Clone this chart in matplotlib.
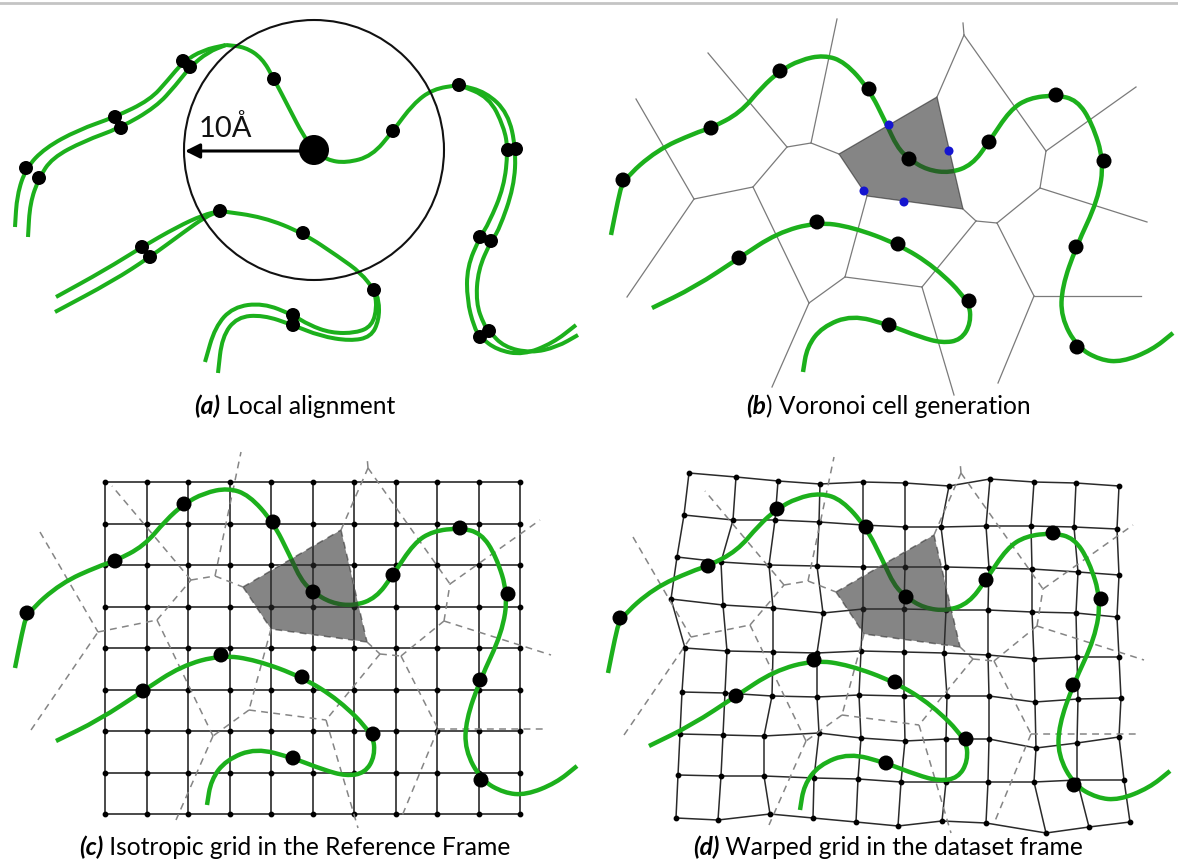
import numpy as np
import matplotlib
matplotlib.use('Agg')
import matplotlib.pyplot as plt
from matplotlib.path import Path
from matplotlib.patches import PathPatch, Circle, Polygon

plt.rcParams['font.family'] = ['Lato', 'DejaVu Sans']

GREEN = '#1cb01c'
W, H = 1178, 863

# ---------------------------------------------------------------
# Panel (a): local alignment of backbone traces (pixel coordinates)
# ---------------------------------------------------------------
a_center = (314, 150)
a_radius = 130

a_single = [
    [(314, 150), (303, 135), (290, 110), (274, 79), (262, 58), (245, 47), (226, 45)],
    [(314, 150), (327, 160), (346, 163), (372, 156), (393, 131), (413, 104), (433, 89), (459, 85)],
    [(220, 211), (263, 217), (303, 233), (339, 257), (361, 273), (374, 290)],
]
a_strands = [
    [(226, 45), (203, 50), (183, 62), (168, 80), (150, 100), (115, 117), (78, 130), (45, 148), (26, 168), (17, 195), (15, 227)],
    [(226, 45), (208, 52), (190, 67), (176, 85), (156, 107), (120, 128), (84, 141), (52, 158), (39, 178), (30, 203), (28, 237)],
    [(459, 85), (489, 97), (504, 127), (508, 150), (504, 187), (489, 223), (480, 237), (467, 267), (467, 300), (474, 327),
     (480, 337), (497, 350), (523, 355), (553, 343), (576, 325)],
    [(459, 85), (486, 92), (508, 113), (516, 149), (514, 187), (499, 230), (491, 241), (478, 270), (476, 303), (484, 325),
     (489, 331), (504, 347), (531, 353), (557, 347), (578, 335)],
    [(220, 211), (203, 215), (177, 227), (142, 247), (105, 270), (56, 297)],
    [(220, 211), (205, 217), (184, 232), (150, 257), (113, 281), (55, 312)],
    [(374, 290), (377, 307), (372, 326), (356, 333), (331, 333), (309, 325), (293, 315), (263, 303), (233, 307), (215, 327), (205, 362)],
    [(374, 290), (379, 300), (379, 320), (371, 337), (350, 341), (320, 336), (293, 325), (263, 315), (237, 317), (222, 337), (218, 373)],
]
a_dots = [(274, 79), (393, 131), (459, 85), (220, 211), (303, 233), (374, 290),
          (183, 61), (190, 67), (115, 117), (121, 128), (26, 168), (39, 178),
          (508, 150), (516, 149), (480, 237), (491, 241), (480, 337), (489, 331),
          (142, 247), (150, 257), (293, 315), (293, 325)]

# ---------------------------------------------------------------
# Panels (b)-(d): traces, Voronoi tessellation, grids
# ---------------------------------------------------------------
trace_top = [(611, 235), (618, 200), (623, 180), (657, 150), (695, 133), (711, 128), (740, 113), (762, 87),
             (780, 71), (800, 60), (824, 55), (845, 62), (869, 89), (886, 123), (897, 147), (909, 159),
             (927, 170), (950, 173), (972, 165), (989, 142), (1010, 110), (1029, 98), (1056, 95),
             (1077, 100), (1092, 123), (1104, 161), (1098, 200), (1076, 247), (1062, 287), (1061, 317),
             (1077, 347), (1100, 360), (1122, 362), (1152, 350), (1173, 333)]
trace_low = [(652, 308), (695, 287), (739, 258), (777, 233), (817, 222), (852, 227), (898, 244), (935, 267),
             (969, 301), (971, 323), (961, 340), (942, 343), (920, 337), (889, 325), (852, 315), (822, 327),
             (807, 347), (803, 372)]
trace_dots = [(623, 180), (711, 128), (780, 71), (869, 89), (909, 159), (989, 142), (1056, 95), (1104, 161),
              (1076, 247), (1077, 347), (739, 258), (817, 222), (898, 244), (969, 301), (889, 325)]

vor_pts = {
    'V1': (694, 199), 'V2': (753, 187), 'V3': (787, 147), 'V4': (811, 143), 'V5': (839, 154),
    'V6': (937, 97), 'V7': (963, 209), 'V8': (867, 196), 'V9': (976, 221), 'V10': (997, 223),
    'V11': (1040, 188), 'V12': (1046, 151), 'V13': (845, 277), 'V14': (922, 287), 'V15': (809, 303),
    'V16': (1034, 296), 'VT': (964, 35),
    'E1': (636, 99), 'E2': (627, 297), 'E3': (708, 53), 'E4': (837, 19), 'E5': (963, 23),
    'E6': (1147, 222), 'E7': (1136, 87), 'E8': (954, 395), 'E9': (772, 387), 'E10': (1141, 296),
    'E11': (998, 383),
}
vor_edges = [('E1', 'V1'), ('E2', 'V1'), ('V1', 'V2'), ('V2', 'V3'), ('V3', 'E3'), ('V3', 'V4'),
             ('V4', 'E4'), ('V4', 'V5'), ('V5', 'V6'), ('V5', 'V8'), ('V6', 'VT'), ('VT', 'E5'),
             ('VT', 'V12'), ('V6', 'V7'), ('V7', 'V8'), ('V7', 'V9'), ('V9', 'V10'), ('V9', 'V14'),
             ('V10', 'V11'), ('V10', 'V16'), ('V11', 'V12'), ('V11', 'E6'), ('V12', 'E7'),
             ('V8', 'V13'), ('V13', 'V14'), ('V13', 'V15'), ('V14', 'E8'), ('V15', 'E9'),
             ('V2', 'V15'), ('V16', 'E10'), ('V16', 'E11')]
cell = ['V5', 'V6', 'V7', 'V8']
cell_sites = [(889, 125), (949, 151), (864, 191), (904, 202)]

# panel offsets relative to panel (b)
off_b = (0, 0)
off_c = (-596, 433)
off_d = (-3, 438)

# isotropic grid of panel (c)
grid_x = np.linspace(105, 520, 11)
grid_y = np.linspace(482, 814, 9)

# warped grid of panel (d), one row of node x / y per grid line
warp_x = [
    [689, 736, 778, 820, 863, 905, 949, 990, 1034, 1076, 1119],
    [684, 733, 775, 819, 863, 905, 941, 986, 1031, 1074, 1117],
    [677, 721, 769, 817, 863, 905, 946, 989, 1032, 1078, 1119],
    [671, 723, 773, 823, 863, 904, 946, 988, 1032, 1076, 1117],
    [685, 727, 773, 817, 861, 904, 944, 988, 1034, 1077, 1119],
    [682, 725, 772, 817, 859, 904, 947, 989, 1035, 1078, 1121],
    [680, 723, 764, 819, 861, 905, 946, 989, 1036, 1077, 1119],
    [678, 721, 764, 814, 858, 901, 946, 988, 1034, 1077, 1124],
    [676, 718, 770, 813, 856, 898, 942, 986, 1046, 1089, 1130],
]
warp_y = [
    [473, 477, 481, 484, 482, 483, 486, 479, 482, 483, 486],
    [515, 520, 520, 522, 525, 527, 527, 526, 526, 527, 529],
    [557, 562, 565, 566, 567, 567, 567, 568, 569, 572, 575],
    [599, 605, 608, 613, 609, 609, 610, 610, 612, 613, 617],
    [648, 651, 652, 653, 651, 652, 653, 655, 659, 657, 657],
    [692, 693, 696, 697, 695, 696, 696, 696, 702, 699, 698],
    [734, 735, 736, 733, 738, 741, 739, 739, 748, 743, 737],
    [775, 776, 776, 778, 779, 782, 782, 782, 782, 780, 780],
    [818, 820, 814, 818, 822, 826, 821, 823, 833, 827, 822],
]

captions = [
    (194, 414, '(a)', ' Local alignment'),
    (746, 414, '(b', ') Voronoi cell generation'),
    (79, 855, '(c)', ' Isotropic grid in the Reference Frame'),
    (693, 855, '(d)', ' Warped grid in the dataset frame'),
]


def smooth_path(pts, dx=0, dy=0):
    # quadratic B-spline through the midpoints of the control polygon
    p = np.asarray(pts, float) + [dx, dy]
    mids = (p[:-1] + p[1:]) / 2
    verts = [p[0], mids[0]]
    codes = [Path.MOVETO, Path.LINETO]
    for i in range(1, len(p) - 1):
        verts += [p[i], mids[i]]
        codes += [Path.CURVE3, Path.CURVE3]
    verts.append(p[-1])
    codes.append(Path.LINETO)
    return Path(verts, codes)


def draw_trace(ax, pts, dx=0, dy=0, lw=3.2, z=3):
    ax.add_patch(PathPatch(smooth_path(pts, dx, dy), fill=False, ec=GREEN, lw=lw,
                           capstyle='butt', joinstyle='round', zorder=z))


def draw_dots(ax, pts, r, dx=0, dy=0, color='black', z=6):
    for x, y in pts:
        ax.add_patch(Circle((x + dx, y + dy), r, fc=color, ec='none', zorder=z))


def draw_voronoi(ax, off, dashed):
    dx, dy = off
    for a, b in vor_edges:
        (x0, y0), (x1, y1) = vor_pts[a], vor_pts[b]
        if dashed:
            ax.plot([x0 + dx, x1 + dx], [y0 + dy, y1 + dy], color='#858585', lw=1.1,
                    dashes=(4.5, 3.5), zorder=2)
        else:
            ax.plot([x0 + dx, x1 + dx], [y0 + dy, y1 + dy], color='#7a7a7a', lw=0.9, zorder=2)


def draw_traces(ax, off):
    dx, dy = off
    draw_trace(ax, trace_top, dx, dy)
    draw_trace(ax, trace_low, dx, dy)
    cell_xy = [(vor_pts[k][0] + dx, vor_pts[k][1] + dy) for k in cell]
    ax.add_patch(Polygon(cell_xy, closed=True, fc='#2e2e2e', ec='none', alpha=0.58, zorder=4))
    draw_dots(ax, trace_dots, 7.5, dx, dy)


fig = plt.figure(figsize=(W / 100, H / 100), dpi=100)
ax = fig.add_axes([0, 0, 1, 1])
ax.set_xlim(0, W)
ax.set_ylim(H, 0)
ax.axis('off')

# thin rule along the top edge
ax.plot([0, W], [3, 3], color='#c4c4c4', lw=2, zorder=1)

# ---- (a)
ax.add_patch(Circle(a_center, a_radius, fill=False, ec='#111111', lw=1.5, zorder=5))
for seg in a_single:
    draw_trace(ax, seg, lw=2.9)
for seg in a_strands:
    draw_trace(ax, seg, lw=2.9)
draw_dots(ax, a_dots, 7)
ax.add_patch(Circle(a_center, 15, fc='black', ec='none', zorder=7))
ax.annotate('', xy=(185, 151), xytext=(300, 151),
            arrowprops=dict(arrowstyle='-|>', lw=2.2, color='black', mutation_scale=22,
                            shrinkA=0, shrinkB=0), zorder=6)
ax.text(199, 137, '10Å', fontsize=21, color='#111111', va='baseline', ha='left', zorder=6)

# ---- (b)
draw_voronoi(ax, off_b, dashed=False)
draw_traces(ax, off_b)
draw_dots(ax, cell_sites, 4.5, color='#1515d0', z=7)

# ---- (c)
for gx in grid_x:
    ax.plot([gx, gx], [grid_y[0], grid_y[-1]], color='#2a2a2a', lw=1.2, zorder=1)
for gy in grid_y:
    ax.plot([grid_x[0], grid_x[-1]], [gy, gy], color='#2a2a2a', lw=1.2, zorder=1)
gx, gy = np.meshgrid(grid_x, grid_y)
ax.scatter(gx.ravel(), gy.ravel(), s=10, color='black', zorder=2)
draw_voronoi(ax, off_c, dashed=True)
draw_traces(ax, off_c)

# ---- (d)
wx = np.array(warp_x, float)
wy = np.array(warp_y, float)
for i in range(wx.shape[0]):
    ax.plot(wx[i], wy[i], color='#2a2a2a', lw=1.1, zorder=1)
for j in range(wx.shape[1]):
    ax.plot(wx[:, j], wy[:, j], color='#2a2a2a', lw=1.1, zorder=1)
ax.scatter(wx.ravel(), wy.ravel(), s=10, color='black', zorder=2)
draw_voronoi(ax, off_d, dashed=True)
draw_traces(ax, off_d)

# ---- captions: bold italic label followed by plain text
fig.canvas.draw()
renderer = fig.canvas.get_renderer()
probe = ax.text(0, 0, '(c) Isotropic grid in the Reference Frame', fontsize=20)
size = 20 * 435 / probe.get_window_extent(renderer).width
probe.remove()
for x0, yb, head, tail in captions:
    t1 = ax.text(x0, yb, head, fontsize=size, fontweight='bold', fontstyle='italic',
                 va='baseline', ha='left', color='black')
    w1 = t1.get_window_extent(renderer).width
    ax.text(x0 + w1, yb, tail, fontsize=size, va='baseline', ha='left', color='black')

fig.savefig('out.png', dpi=100)
